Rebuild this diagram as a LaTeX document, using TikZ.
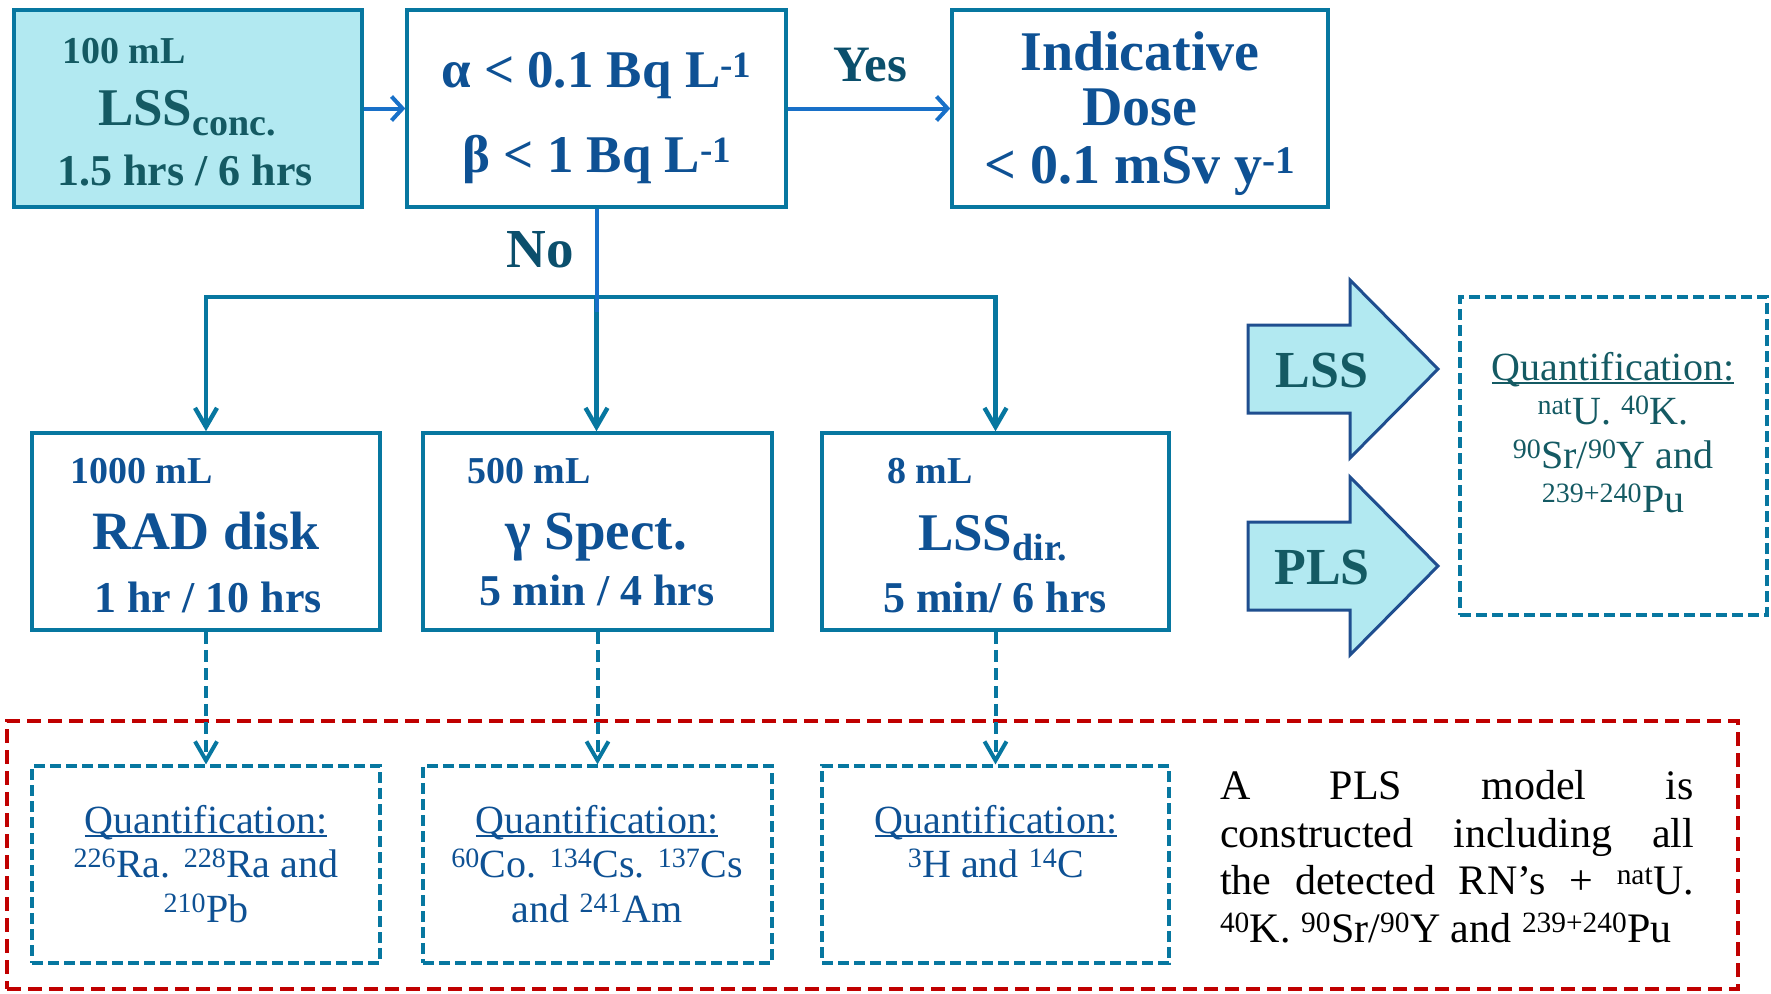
\documentclass[tikz,border=0pt]{standalone}
\usepackage{fontspec}
\setmainfont{Liberation Serif}
\usetikzlibrary{arrows.meta}
\definecolor{boxteal}{RGB}{7,119,160}
\definecolor{arrowblue}{RGB}{24,112,200}
\definecolor{txtblue}{RGB}{14,81,148}
\definecolor{txtteal}{RGB}{20,90,99}
\definecolor{labteal}{RGB}{11,79,108}
\definecolor{fillcyan}{RGB}{178,233,241}
\definecolor{shapeblue}{RGB}{31,78,143}
\definecolor{dashred}{RGB}{192,0,0}
\newcommand\fs[1]{\fontsize{#1}{#1}\selectfont}
\newcommand\sps[1]{\textsuperscript{#1}}
\newsavebox\qulbox
\newcommand\qul[1]{\sbox\qulbox{#1}\rlap{\rule[-0.1em]{\wd\qulbox}{0.05em}}\usebox\qulbox}
\begin{document}
\begin{tikzpicture}[x=1pt,y=-1pt,
  solidbox/.style={draw=boxteal, line width=3.5pt, inner sep=0pt, minimum height=197pt},
  dashbox/.style={draw=boxteal, line width=3.2pt, dash pattern=on 11pt off 5pt, inner sep=0pt, minimum height=197pt},
  redbox/.style={draw=dashred, line width=4pt, dash pattern=on 14pt off 7pt, inner sep=0pt},
  txt/.style={inner sep=0pt, outer sep=0pt},
  bluearr/.style={draw=arrowblue, line width=4pt, -{Straight Barb[length=11pt,width=24pt]}},
  blueline/.style={draw=arrowblue, line width=4pt},
  tealarr/.style={draw=boxteal, line width=4.4pt, -{Straight Barb[length=19pt,width=22pt]}},
  dasharr/.style={draw=boxteal, line width=4pt, dash pattern=on 12pt off 6pt, -{Straight Barb[length=19pt,width=22pt]}},
  bigarrow/.style={draw=shapeblue, line width=3pt, fill=fillcyan, line join=miter}
]
\useasboundingbox (0,0) rectangle (1771,993);

% top row boxes
\node[solidbox, fill=fillcyan, minimum width=348pt] (A) at (188,108.5) {};
\node[solidbox, minimum width=379pt] (B) at (596.5,108.5) {};
\node[solidbox, minimum width=376pt] (C) at (1140,108.5) {};

% middle row boxes
\node[solidbox, minimum width=348pt] (D) at (206,531.5) {};
\node[solidbox, minimum width=349pt] (E) at (597.5,531.5) {};
\node[solidbox, minimum width=347pt] (F) at (995.5,531.5) {};

% red dashed frame
\node[redbox, minimum width=1731pt, minimum height=268pt] (red) at (872.5,855) {};

% quantification boxes
\node[dashbox, minimum width=348pt] (Dq) at (206,864.5) {};
\node[dashbox, minimum width=349pt] (Eq) at (597.5,864.5) {};
\node[dashbox, minimum width=347pt] (Fq) at (995.5,864.5) {};
\node[dashbox, minimum width=307pt, minimum height=318pt] (R) at (1613.5,456) {};

% big arrows
\draw[bigarrow] (1248,325) -- (1350,325) -- (1350,280) -- (1438,369) -- (1350,458) -- (1350,413) -- (1248,413) -- cycle;
\draw[bigarrow] (1248,522) -- (1350,522) -- (1350,477) -- (1438,566) -- (1350,655) -- (1350,610) -- (1248,610) -- cycle;
\node[txt, anchor=base, text=txtteal] (lss) at (1322,387) {\fs{52}\bfseries LSS};
\node[txt, anchor=base, text=txtteal] (pls) at (1322,584) {\fs{52}\bfseries PLS};

% connectors
\coordinate (junc) at (596.5,297);
\coordinate (bend) at (596.5,312);
\draw[bluearr] (A.east) -- (B.west);
\draw[bluearr] (B.east) -- (C.west);
\draw[tealarr] (junc) -| (D.north);
\draw[tealarr] (junc) -| (F.north);
\draw[tealarr] (junc) -- (junc |- E.north);
\draw[blueline] (B.south) -- (bend);
\draw[dasharr] (D.south) -- (Dq.north);
\draw[dasharr] (E.south) -- (Eq.north);
\draw[dasharr] (F.south) -- (Fq.north);

\node[txt, anchor=base, text=labteal] (yes) at (870,81) {\fs{51}\bfseries Yes};
\node[txt, anchor=base, text=labteal] (no) at (540,267) {\fs{55}\bfseries No};

% box A text
\node[txt, anchor=base west, text=txtteal] (a1) at (62,63) {\fs{38}\bfseries 100 mL};
\node[txt, anchor=base west, text=txtteal] (a2) at (98,125) {\fs{53}\bfseries LSS\raisebox{-10pt}{\fs{38}conc.}};
\node[txt, anchor=base, text=txtteal] (a3) at (185,185) {\fs{44}\bfseries 1.5 hrs / 6 hrs};

% box B text
\node[txt, anchor=base, text=txtblue] (b1) at (596.5,87) {\fs{53}\bfseries α < 0.1 Bq L\sps{-1}};
\node[txt, anchor=base, text=txtblue] (b2) at (597,172) {\fs{53}\bfseries β < 1 Bq L\sps{-1}};

% box C text
\node[txt, anchor=base, text=txtblue] (c1) at (1140,70) {\fs{56}\bfseries Indicative};
\node[txt, anchor=base, text=txtblue] (c2) at (1140,125) {\fs{56}\bfseries Dose};
\node[txt, anchor=base, text=txtblue] (c3) at (1140,183) {\fs{56}\bfseries < 0.1 mSv y\sps{-1}};

% box D text
\node[txt, anchor=base west, text=txtblue] (d1) at (70,483) {\fs{38}\bfseries 1000 mL};
\node[txt, anchor=base, text=txtblue] (d2) at (206,549) {\fs{54}\bfseries RAD disk};
\node[txt, anchor=base, text=txtblue] (d3) at (208,612) {\fs{44}\bfseries 1 hr / 10 hrs};

% box E text
\node[txt, anchor=base west, text=txtblue] (e1) at (467,483) {\fs{38}\bfseries 500 mL};
\node[txt, anchor=base, text=txtblue] (e2) at (596,549) {\fs{55}\bfseries γ Spect.};
\node[txt, anchor=base, text=txtblue] (e3) at (597,605) {\fs{44}\bfseries 5 min / 4 hrs};

% box F text
\node[txt, anchor=base west, text=txtblue] (f1) at (887,483) {\fs{38}\bfseries 8 mL};
\node[txt, anchor=base west, text=txtblue] (f2) at (918,550) {\fs{53}\bfseries LSS\raisebox{-10pt}{\fs{38}dir.}};
\node[txt, anchor=base, text=txtblue] (f3) at (995,612) {\fs{44}\bfseries 5 min/ 6 hrs};

% quantification texts
\node[txt, anchor=base, text=txtblue] (dq1) at (206,833) {\fs{40}\qul{Quantification:}};
\node[txt, anchor=base, text=txtblue] (dq2) at (206,877) {\fs{40}\sps{226}Ra. \sps{228}Ra and};
\node[txt, anchor=base, text=txtblue] (dq3) at (206,922) {\fs{40}\sps{210}Pb};

\node[txt, anchor=base, text=txtblue] (eq1) at (597,833) {\fs{40}\qul{Quantification:}};
\node[txt, anchor=base, text=txtblue] (eq2) at (597,877) {\fs{40}\sps{60}Co. \sps{134}Cs. \sps{137}Cs};
\node[txt, anchor=base, text=txtblue] (eq3) at (597,922) {\fs{40}and \sps{241}Am};

\node[txt, anchor=base, text=txtblue] (fq1) at (996,833) {\fs{40}\qul{Quantification:}};
\node[txt, anchor=base, text=txtblue] (fq2) at (996,877) {\fs{40}\sps{3}H and \sps{14}C};

\node[txt, anchor=base, text=txtteal] (rq1) at (1613,380) {\fs{40}\qul{Quantification:}};
\node[txt, anchor=base, text=txtteal] (rq2) at (1613,424) {\fs{40}\sps{nat}U. \sps{40}K.};
\node[txt, anchor=base, text=txtteal] (rq3) at (1613,468) {\fs{40}\sps{90}Sr/\sps{90}Y and};
\node[txt, anchor=base, text=txtteal] (rq4) at (1613,512) {\fs{40}\sps{239+240}Pu};

% paragraph
\node[txt, anchor=base west] (p1) at (1220,799) {\fs{42}\makebox[474pt][s]{A PLS model is}};
\node[txt, anchor=base west] (p2) at (1220,847) {\fs{42}\makebox[474pt][s]{constructed including all}};
\node[txt, anchor=base west] (p3) at (1220,894) {\fs{42}\makebox[474pt][s]{the detected RN’s + \sps{nat}U.}};
\node[txt, anchor=base west] (p4) at (1220,942) {\fs{42}\sps{40}K. \sps{90}Sr/\sps{90}Y and \sps{239+240}Pu};
\end{tikzpicture}
\end{document}
